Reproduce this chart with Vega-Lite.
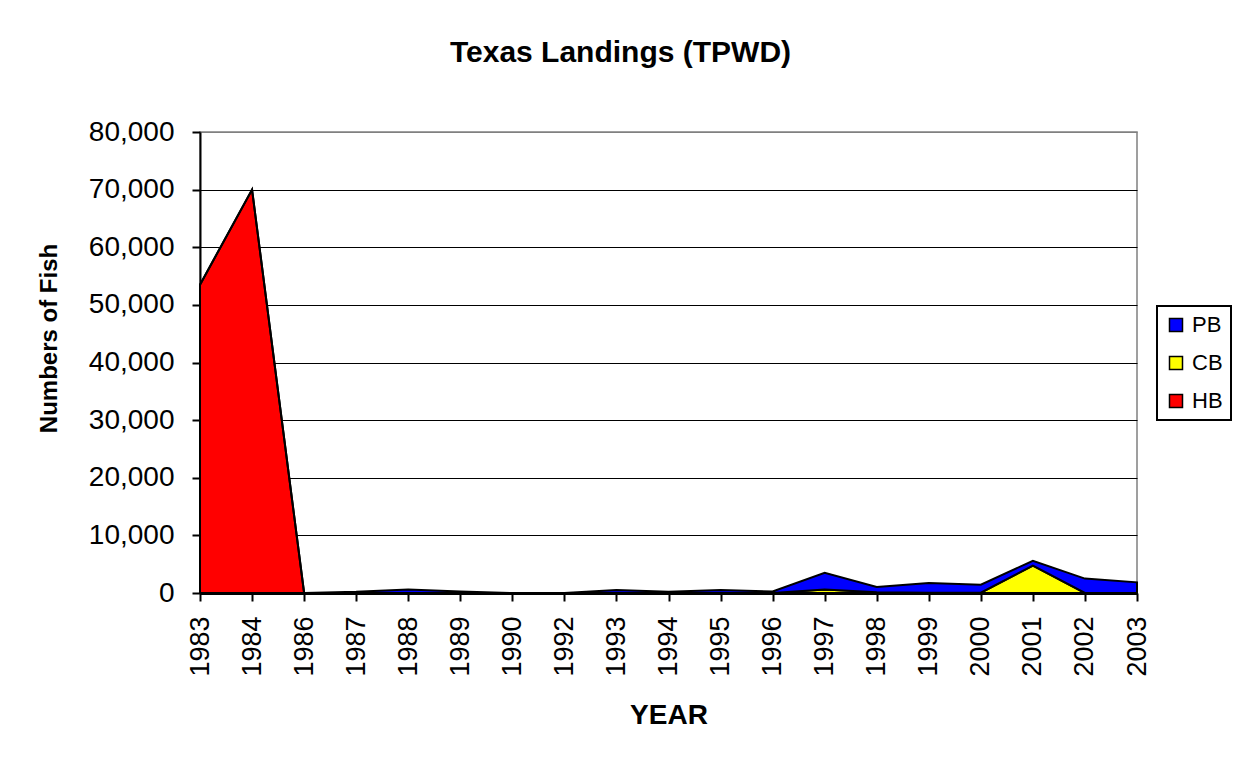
{
  "$schema": "https://vega.github.io/schema/vega-lite/v6.json",
  "width": 937,
  "height": 461,
  "autosize": {"type": "none"},
  "padding": {"left": 200, "top": 132, "right": 98, "bottom": 164},
  "background": "white",
  "title": {
    "text": "Texas Landings (TPWD)",
    "font": "Liberation Sans",
    "fontSize": 30,
    "fontWeight": "bold",
    "color": "black",
    "anchor": "middle",
    "dx": -48,
    "offset": 50
  },
  "config": {
    "font": "Liberation Sans",
    "view": {"stroke": "#808080", "strokeWidth": 1.5}
  },
  "data": {
    "values": [
      {"year": "1983", "species": "HB", "count": 53500},
      {"year": "1983", "species": "CB", "count": 0},
      {"year": "1983", "species": "PB", "count": 0},
      {"year": "1984", "species": "HB", "count": 70000},
      {"year": "1984", "species": "CB", "count": 0},
      {"year": "1984", "species": "PB", "count": 0},
      {"year": "1986", "species": "HB", "count": 0},
      {"year": "1986", "species": "CB", "count": 0},
      {"year": "1986", "species": "PB", "count": 0},
      {"year": "1987", "species": "HB", "count": 0},
      {"year": "1987", "species": "CB", "count": 0},
      {"year": "1987", "species": "PB", "count": 200},
      {"year": "1988", "species": "HB", "count": 0},
      {"year": "1988", "species": "CB", "count": 0},
      {"year": "1988", "species": "PB", "count": 600},
      {"year": "1989", "species": "HB", "count": 0},
      {"year": "1989", "species": "CB", "count": 0},
      {"year": "1989", "species": "PB", "count": 250},
      {"year": "1990", "species": "HB", "count": 0},
      {"year": "1990", "species": "CB", "count": 0},
      {"year": "1990", "species": "PB", "count": 0},
      {"year": "1992", "species": "HB", "count": 0},
      {"year": "1992", "species": "CB", "count": 0},
      {"year": "1992", "species": "PB", "count": 0},
      {"year": "1993", "species": "HB", "count": 0},
      {"year": "1993", "species": "CB", "count": 0},
      {"year": "1993", "species": "PB", "count": 500},
      {"year": "1994", "species": "HB", "count": 0},
      {"year": "1994", "species": "CB", "count": 0},
      {"year": "1994", "species": "PB", "count": 200},
      {"year": "1995", "species": "HB", "count": 0},
      {"year": "1995", "species": "CB", "count": 0},
      {"year": "1995", "species": "PB", "count": 500},
      {"year": "1996", "species": "HB", "count": 0},
      {"year": "1996", "species": "CB", "count": 0},
      {"year": "1996", "species": "PB", "count": 250},
      {"year": "1997", "species": "HB", "count": 0},
      {"year": "1997", "species": "CB", "count": 600},
      {"year": "1997", "species": "PB", "count": 2900},
      {"year": "1998", "species": "HB", "count": 0},
      {"year": "1998", "species": "CB", "count": 150},
      {"year": "1998", "species": "PB", "count": 900},
      {"year": "1999", "species": "HB", "count": 0},
      {"year": "1999", "species": "CB", "count": 50},
      {"year": "1999", "species": "PB", "count": 1700},
      {"year": "2000", "species": "HB", "count": 0},
      {"year": "2000", "species": "CB", "count": 50},
      {"year": "2000", "species": "PB", "count": 1400},
      {"year": "2001", "species": "HB", "count": 0},
      {"year": "2001", "species": "CB", "count": 4750},
      {"year": "2001", "species": "PB", "count": 850},
      {"year": "2002", "species": "HB", "count": 0},
      {"year": "2002", "species": "CB", "count": 0},
      {"year": "2002", "species": "PB", "count": 2500},
      {"year": "2003", "species": "HB", "count": 0},
      {"year": "2003", "species": "CB", "count": 0},
      {"year": "2003", "species": "PB", "count": 1850}
    ]
  },
  "mark": {"type": "area", "stroke": "black", "strokeWidth": 2, "strokeJoin": "miter", "interpolate": "linear"},
  "encoding": {
    "x": {
      "field": "year",
      "type": "ordinal",
      "scale": {"type": "point", "padding": 0},
      "axis": {
        "title": "YEAR",
        "titleFontSize": 28,
        "titleFontWeight": "bold",
        "titleColor": "black",
        "titlePadding": 25,
        "labelAngle": -90,
        "labelAlign": "right",
        "labelBaseline": "middle",
        "labelFontSize": 27,
        "labelColor": "black",
        "labelPadding": 15,
        "tickSize": 8,
        "tickColor": "black",
        "tickWidth": 2,
        "domainColor": "black",
        "domainWidth": 3,
        "grid": false
      }
    },
    "y": {
      "field": "count",
      "type": "quantitative",
      "stack": "zero",
      "scale": {"domain": [0, 80000]},
      "axis": {
        "title": "Numbers of Fish",
        "titleFontSize": 24,
        "titleFontWeight": "bold",
        "titleColor": "black",
        "titlePadding": 27,
        "titleY": 206,
        "values": [0, 10000, 20000, 30000, 40000, 50000, 60000, 70000, 80000],
        "format": ",d",
        "labelFontSize": 28,
        "labelColor": "black",
        "labelPadding": 18,
        "tickSize": 8,
        "tickColor": "black",
        "tickWidth": 2,
        "domainColor": "black",
        "domainWidth": 2,
        "grid": true,
        "gridColor": {"condition": {"test": "datum.value == 80000", "value": "#808080"}, "value": "black"},
        "gridWidth": 1.2,
        "gridOpacity": 1
      }
    },
    "color": {
      "field": "species",
      "type": "nominal",
      "scale": {"domain": ["PB", "CB", "HB"], "range": ["#0000FF", "#FFFF00", "#FF0000"]},
      "legend": {
        "title": null,
        "orient": "none",
        "legendX": 957,
        "legendY": 174,
        "symbolType": "square",
        "symbolSize": 169,
        "symbolStrokeColor": "black",
        "symbolStrokeWidth": 1.5,
        "symbolOpacity": 1,
        "labelFontSize": 22,
        "labelColor": "black",
        "labelOffset": 5,
        "rowPadding": 16,
        "padding": 8,
        "strokeColor": "black",
        "encode": {"legend": {"update": {"strokeWidth": {"value": 2}}}}
      }
    },
    "order": {"field": "species", "sort": "ascending"}
  }
}
